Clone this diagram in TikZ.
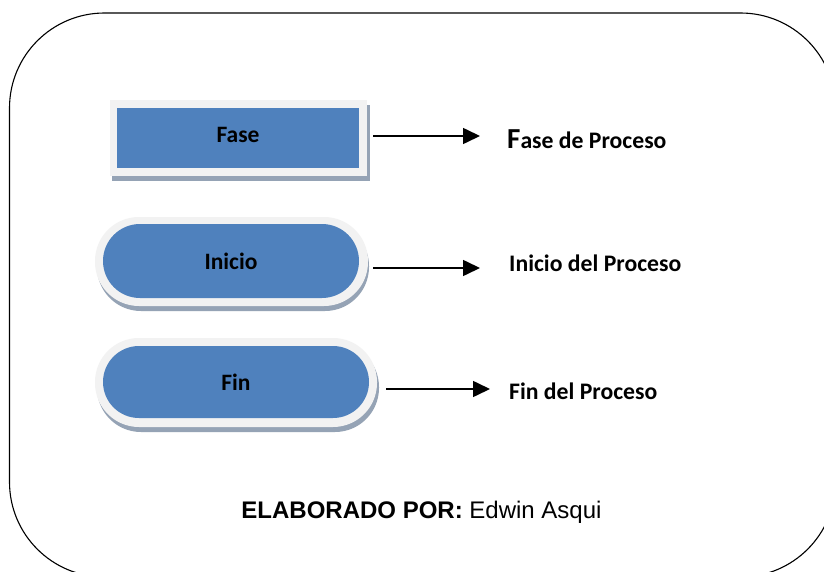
\documentclass[tikz,border=0pt]{standalone}
\usepackage{fontspec}
\setmainfont{Carlito}
\newfontfamily\arialfont{Liberation Sans}
\usetikzlibrary{arrows.meta}
\definecolor{boxblue}{HTML}{4F81BD}
\definecolor{boxrim}{HTML}{F2F2F2}
\definecolor{boxshade}{HTML}{95A3B5}
\tikzset{
  x=1pt,y=-1pt,
  panel/.style={draw=black,line width=1.1pt,fill=white,rounded corners=95pt,inner sep=0pt,outer sep=0pt},
  plate/.style={inner sep=0pt,outer sep=0pt,minimum width=#1},
  shadeplate/.style={plate=#1,fill=boxshade},
  rimplate/.style={plate=#1,fill=boxrim},
  blueplate/.style={plate=#1,fill=boxblue,font=\bfseries\fontsize{23.5}{24}\selectfont,text=black},
  caption/.style={font=\bfseries\fontsize{23.7}{24}\selectfont,anchor=base west,inner sep=0pt},
  pointer/.style={draw=black,line width=1.6pt,-{Triangle[length=17pt,width=16pt]}}
}
\begin{document}
\begin{tikzpicture}
\useasboundingbox (0,0) rectangle (824,572);
\begin{scope}
\clip (0,0) rectangle (824,572);
\node[panel,minimum width=826pt,minimum height=564pt] (frame) at (422.5,295) {};
\end{scope}

% Fase
\node[shadeplate=258pt,minimum height=76pt] (faseS) at (241,143) {};
\node[rimplate=257pt,minimum height=76pt] (faseR) at (238.5,138) {};
\node[blueplate=242pt,minimum height=60pt] (fase) at (238,138) {\raisebox{7pt}{Fase}};

% Inicio
\node[shadeplate=272pt,minimum height=89pt,rounded corners=44pt] (inicioS) at (233,266.5) {};
\node[rimplate=273pt,minimum height=89pt,rounded corners=44pt] (inicioR) at (231.5,261.5) {};
\node[blueplate=256pt,minimum height=74pt,rounded corners=37pt] (inicio) at (231,261) {Inicio};

% Fin
\node[shadeplate=282pt,minimum height=89pt,rounded corners=44pt] (finS) at (238,387.5) {};
\node[rimplate=282pt,minimum height=89pt,rounded corners=44pt] (finR) at (236,382.5) {};
\node[blueplate=266pt,minimum height=72pt,rounded corners=36pt] (fin) at (236,382) {Fin};

% Captions
\node[caption] (faseT) at (507,149) {{\fontsize{29}{29}\selectfont F}ase de Proceso};
\node[caption] (inicioT) at (509,271) {Inicio del Proceso};
\node[caption] (finT) at (509,399) {Fin del Proceso};

% Connectors
\coordinate (a1s) at (373,136);
\coordinate (a1e) at (480,136);
\coordinate (a2s) at (373,268);
\coordinate (a2e) at (480,268);
\coordinate (a3s) at (386,389);
\coordinate (a3e) at (490,389);
\draw[pointer] (a1s) -- (a1e);
\draw[pointer] (a2s) -- (a2e);
\draw[pointer] (a3s) -- (a3e);

% Footer
\node[inner sep=0pt,font=\arialfont\fontsize{24}{24}\selectfont] (footer) at (421.5,512) {\textbf{ELABORADO POR:} Edwin Asqui};
\end{tikzpicture}
\end{document}
